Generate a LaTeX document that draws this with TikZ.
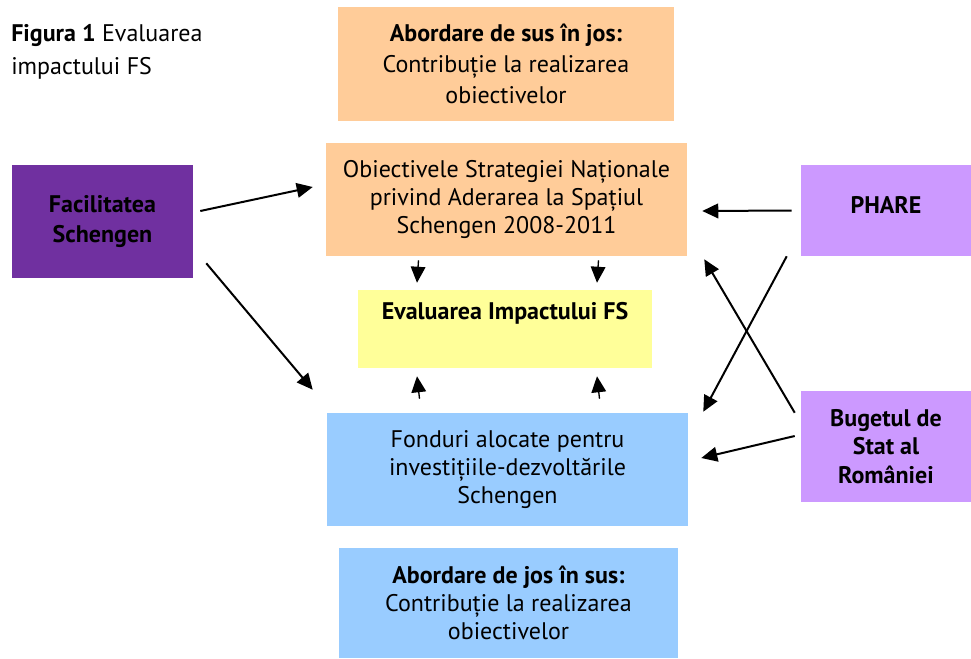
\documentclass[tikz,border=0pt]{standalone}
\usepackage{fontspec}
\setmainfont{PT Sans}
\usetikzlibrary{arrows.meta,calc}
\definecolor{peach}{HTML}{FFCC99}
\definecolor{grape}{HTML}{7030A0}
\definecolor{lilac}{HTML}{CC99FF}
\definecolor{lemon}{HTML}{FFFF99}
\definecolor{sky}{HTML}{99CCFF}
\begin{document}
\begin{tikzpicture}[x=0.75pt, y=-0.75pt, >={Triangle[length=12pt,width=11pt]},
    box/.style={rectangle, inner sep=0pt, align=center, font=\fontsize{18}{21}\selectfont},
    link/.style={->, line width=1.5pt},
    tick/.style={->, line width=1pt}]
  \useasboundingbox (0,0) rectangle (971,658);
  % Caption
  \node[anchor=north west, align=left, inner sep=0pt, font=\fontsize{18}{24.5}\selectfont] (caption) at (11,24) {\textbf{Figura 1} Evaluarea\\impactului FS};
  % Approaches
  \node[box, fill=peach, minimum width=252pt, minimum height=85.5pt, font=\fontsize{18}{23}\selectfont] (topdown) at (506,64) {\textbf{Abordare de sus în jos:}\\Contribuție la realizarea\\obiectivelor};
  \node[box, fill=sky, minimum width=254.25pt, minimum height=82.5pt] (bottomup) at (508.5,603) {\textbf{Abordare de jos în sus:}\\Contribuție la realizarea\\obiectivelor};
  % Central column
  \node[box, fill=peach, minimum width=270.75pt, minimum height=84.75pt] (obj) at (506.5,199.5) {Obiectivele Strategiei Naționale\\privind Aderarea la Spațiul\\Schengen 2008-2011};
  \node[box, fill=lemon, minimum width=220.5pt, minimum height=58.5pt] (eval) at (505,329) {\textbf{Evaluarea Impactului FS}\\\strut};
  \node[box, fill=sky, minimum width=270.75pt, minimum height=84.75pt] (fond) at (507.5,469.5) {Fonduri alocate pentru\\investițiile-dezvoltările\\Schengen};
  % Sources
  \node[box, fill=grape, minimum width=135.75pt, minimum height=84.75pt, font=\fontsize{18}{23}\selectfont\bfseries] (facil) at (102.5,221.5) {Facilitatea\\Schengen};
  \node[box, fill=lilac, minimum width=127.5pt, minimum height=68.25pt, font=\fontsize{18}{21}\selectfont\bfseries] (phare) at (886,210.5) {PHARE\\[-12pt]};
  \node[box, fill=lilac, minimum width=127.5pt, minimum height=83.25pt, font=\fontsize{18}{21.5}\selectfont\bfseries] (buget) at (886,446.5) {Bugetul de\\Stat al\\României};
  % Flows
  \draw[link] ($(facil.east)+(7,-10.5)$) -- ($(obj.west)+(-13,-12.5)$);
  \draw[link] ($(facil.south east)+(13,-15)$) -- ($(fond.north west)+(-14,-23)$);
  \draw[link] ($(phare.west)+(-9,0)$) -- ($(obj.east)+(15,11.5)$);
  \draw[link] ($(phare.south west)+(-14,0)$) -- ($(fond.north east)+(15,-1)$);
  \draw[link] ($(buget.north west)+(-6,22)$) -- ($(obj.south east)+(17,3)$);
  \draw[link] ($(buget.west)+(-6,-10.5)$) -- ($(fond.east)+(13,-11.5)$);
  \foreach \dx in {-88,92} {
    \draw[tick] ($(obj.south)+(\dx,4)$) -- ($(eval.north)+(\dx,-7)$);
    \draw[tick] ($(fond.north)+(\dx,-14)$) -- ($(eval.south)+(\dx,8)$);
  }
\end{tikzpicture}
\end{document}
